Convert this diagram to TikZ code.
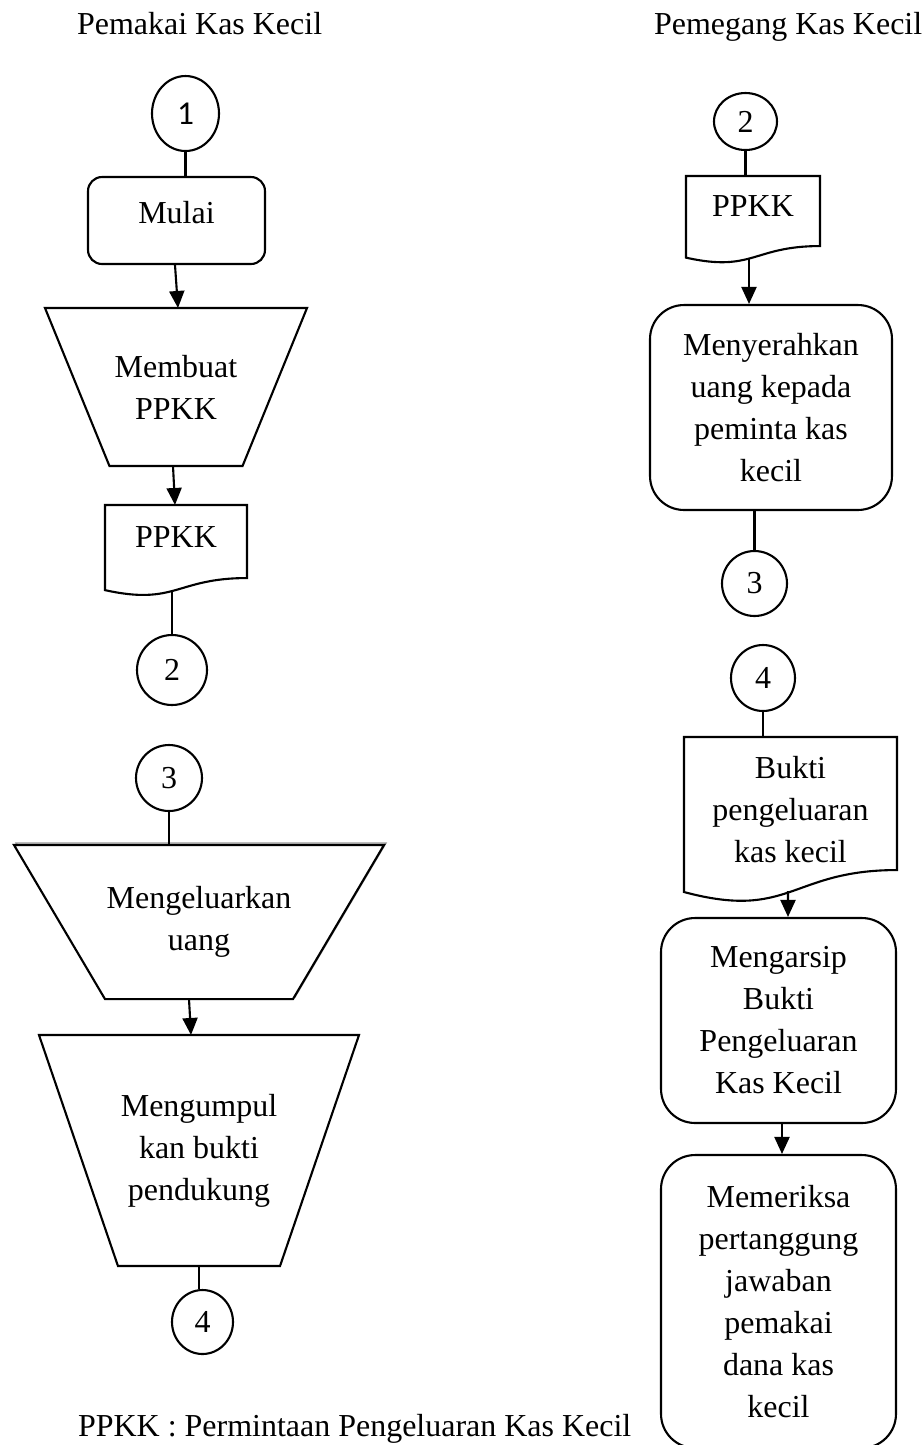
\documentclass[tikz,border=0pt]{standalone}
\usepackage{fontspec}
\setmainfont{Liberation Serif}
\newfontfamily\calibri{Carlito}
\usetikzlibrary{shapes.geometric,arrows.meta,calc}

\newcommand{\docshape}[1]{%
	\draw (#1.north west) -- (#1.north east) -- (#1.south east)
		.. controls (#1.south) and ($(#1.north)!1.38!(#1.south)$)
		.. ($(#1.north west)!1.165!(#1.south west)$) -- cycle;}
\newcommand{\trapshape}[2]{%
	\draw[fill=white] (#1.north west) -- (#1.north east) -- ($(#1.south east)+(-#2,0)$)
		-- ($(#1.south west)+(#2,0)$) -- cycle;}

\begin{document}
\begin{tikzpicture}[x=0.02cm, y=-0.02cm, line width=1.2pt,
	txt/.style={font=\fontsize{18.2pt}{23.9pt}\selectfont, align=center},
	lane/.style={txt, inner sep=0pt, anchor=base west},
	conn/.style={draw, ellipse, inner sep=0pt, txt},
	rbox/.style={draw, rounded corners=0.68cm, txt},
	dbox/.style={rectangle, inner sep=0pt, txt},
	flow/.style={-{Triangle[length=0.34cm,width=0.3cm]}}]

		\useasboundingbox (0,0) rectangle (923,1445);

		\node[lane] (lane1) at (76,34) {Pemakai Kas Kecil};
		\node[lane] (lane2) at (653,34) {Pemegang Kas Kecil};

		\node[conn, minimum width=1.34cm, minimum height=1.5cm] (c1) at (185.5,113.5) {\calibri\fontsize{19pt}{22pt}\selectfont 1};
		\node[rbox, rounded corners=0.28cm, minimum width=3.54cm, minimum height=1.74cm, text depth=0.34cm] (mulai) at (176.5,220.5) {Mulai};
		\node[dbox, minimum width=5.2cm, minimum height=3.12cm] (membuat) at (176,387) {};
			\trapshape{membuat}{64.5}
			\node[txt] at (membuat) {Membuat\\PPKK};
		\node[dbox, minimum width=2.8cm, minimum height=1.42cm, text depth=0.18cm] (docL) at (176,541.5) {PPKK};
			\docshape{docL}
		\node[conn, minimum width=1.4cm, minimum height=1.4cm] (c2L) at (172,670) {2};

		\node[conn, minimum width=1.32cm, minimum height=1.32cm] (c3L) at (169,778) {3};
		\node[dbox, minimum width=7.36cm, minimum height=3.04cm] (keluar) at (199,922) {};
			\draw[black!40, line width=0.8pt] ($(keluar.north west)+(2,-2)$) -- ($(keluar.north east)+(2,-2)$)
				-- ($(keluar.south east)+(-89,-2)$) -- ($(keluar.south west)+(93,-2)$) -- cycle;
			\trapshape{keluar}{91}
			\node[txt] at (keluar) {Mengeluarkan\\uang};
		\node[dbox, minimum width=6.36cm, minimum height=4.58cm] (kumpul) at (199,1150.5) {};
			\trapshape{kumpul}{79}
			\node[txt] at (kumpul) {Mengumpul\\kan bukti\\pendukung};
		\node[conn, minimum width=1.22cm, minimum height=1.28cm] (c4L) at (202.5,1322) {4};

		\node[lane] (note) at (77,1436) {PPKK : Permintaan Pengeluaran Kas Kecil};

		\node[conn, minimum width=1.26cm, minimum height=1.14cm] (c2R) at (745.5,121.5) {2};
		\node[dbox, minimum width=2.64cm, minimum height=1.36cm, text depth=0.18cm] (docR) at (753,211) {PPKK};
			\docshape{docR}
		\node[rbox, minimum width=4.84cm, minimum height=4.1cm] (serah) at (771,407.5) {Menyerahkan\\uang kepada\\peminta kas\\kecil};
		\node[conn, minimum width=1.3cm, minimum height=1.3cm] (c3R) at (754.5,583.5) {3};

		\node[conn, minimum width=1.28cm, minimum height=1.32cm] (c4R) at (763,678) {4};
		\node[dbox, minimum width=4.22cm, minimum height=2.62cm] (bukti) at (790.5,803.5) {};
			\docshape{bukti}
			\node[txt] at ($(bukti)+(0,6)$) {Bukti\\pengeluaran\\kas kecil};
		\node[rbox, minimum width=4.7cm, minimum height=4.1cm] (arsip) at (778.5,1020.5) {Mengarsip\\Bukti\\Pengeluaran\\Kas Kecil};
		\node[rbox, minimum width=4.7cm, minimum height=5.86cm] (periksa) at (778.5,1301.5) {Memeriksa\\pertanggung\\jawaban\\pemakai\\dana kas\\kecil};

		\draw (c1.south) -- (c1.south |- mulai.north);
		\draw[flow] ($(mulai.south)+(-1.5,0)$) -- ($(membuat.north)+(2,0)$);
		\draw[flow] ($(membuat.south)+(-3,0)$) -- ($(docL.north)+(-1,0)$);
		\draw ($(docL.south)+(-4,12)$) -- (c2L.north);
		\draw (c3L.south) -- (c3L.south |- keluar.north);
		\draw[flow] ($(keluar.south)+(-10,0)$) -- ($(kumpul.north)+(-8,0)$);
		\draw (kumpul.south) -- (kumpul.south |- c4L.north);

		\draw (c2R.south) -- (c2R.south |- docR.north);
		\draw[flow] ($(docR.south)+(-4,12)$) -- ($(serah.north)+(-22,0)$);
		\draw (c3R.north |- serah.south) -- (c3R.north);
		\draw (c4R.south) -- (c4R.south |- bukti.north);
		\draw[flow] ($(bukti.south)+(-2.5,21)$) -- ($(arsip.north)+(9.5,0)$);
		\draw[flow] ($(arsip.south)+(3.5,0)$) -- ($(periksa.north)+(3.5,0)$);

	\end{tikzpicture}
\end{document}
